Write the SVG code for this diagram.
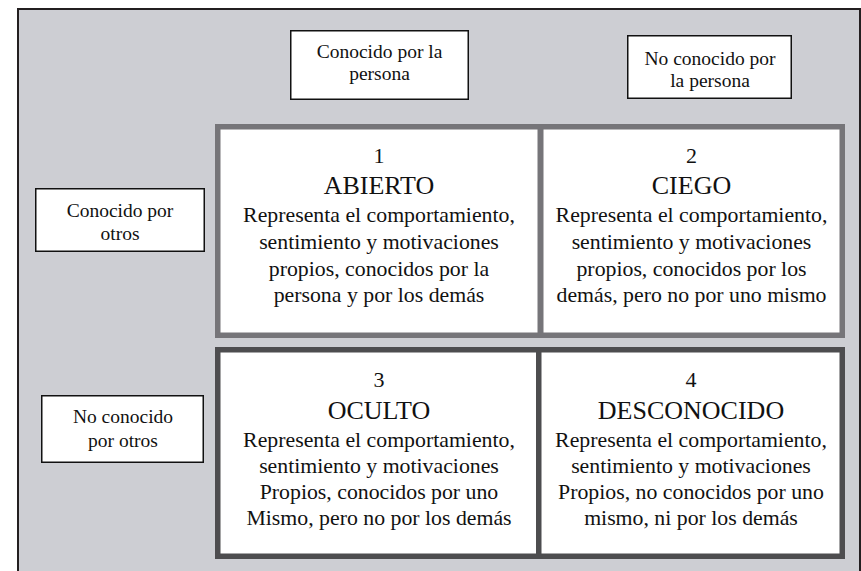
<svg xmlns="http://www.w3.org/2000/svg" width="861" height="571" viewBox="0 0 861 571">
<style>
  .lbl { fill: #ffffff; stroke: #111111; stroke-width: 1.5; }
  .cellA { fill: #ffffff; stroke: #767579; stroke-width: 5.5; }
  .cellB { fill: #ffffff; stroke: #4d4d4f; stroke-width: 5.5; }
  .t { font-size: 19.5px; }
  .num { font-size: 22px; }
  .ttl { font-size: 26px; }
  .body { font-size: 21.8px; }
</style>
<rect x="0" y="0" width="861" height="571" fill="#ffffff"/>
<rect id="frame" x="18" y="9" width="842" height="600" fill="#cdced3" stroke="#231f20" stroke-width="2"/>
<g id="connectors"></g>
<g font-family="Liberation Serif, DejaVu Serif, serif" fill="#111111" text-anchor="middle">
<g id="label-conocido-persona">
  <rect class="lbl" x="290.75" y="30.75" width="177.5" height="68.5"/>
  <text class="t" x="379.5" y="57.5">Conocido por la</text>
  <text class="t" x="379.5" y="80">persona</text>
</g>
<g id="label-no-conocido-persona">
  <rect class="lbl" x="627.75" y="35.75" width="163.5" height="62.5"/>
  <text class="t" x="710" y="65">No conocido por</text>
  <text class="t" x="710" y="86.5">la persona</text>
</g>
<g id="label-conocido-otros">
  <rect class="lbl" x="35.75" y="188.75" width="168.5" height="62.5"/>
  <text class="t" x="120" y="217">Conocido por</text>
  <text class="t" x="120" y="240">otros</text>
</g>
<g id="label-no-conocido-otros">
  <rect class="lbl" x="41.75" y="395.75" width="161.5" height="66.5"/>
  <text class="t" x="123" y="423">No conocido</text>
  <text class="t" x="123" y="447">por otros</text>
</g>
<g id="cell-1">
  <rect class="cellA" x="217.75" y="126.75" width="322.5" height="208.5"/>
  <text class="num" x="379" y="163">1</text>
  <text class="ttl" x="379" y="194">ABIERTO</text>
  <text class="body" x="379" y="222">Representa el comportamiento,</text>
  <text class="body" x="379" y="248.5">sentimiento y motivaciones</text>
  <text class="body" x="379" y="275.5">propios, conocidos por la</text>
  <text class="body" x="379" y="301.5">persona y por los demás</text>
</g>
<g id="cell-2">
  <rect class="cellA" x="540.75" y="126.75" width="301.5" height="208.5"/>
  <text class="num" x="691.5" y="163">2</text>
  <text class="ttl" x="691.5" y="194">CIEGO</text>
  <text class="body" x="691.5" y="222">Representa el comportamiento,</text>
  <text class="body" x="691.5" y="248.5">sentimiento y motivaciones</text>
  <text class="body" x="691.5" y="275.5">propios, conocidos por los</text>
  <text class="body" x="691.5" y="301.5">demás, pero no por uno mismo</text>
</g>
<g id="cell-3">
  <rect class="cellB" x="217.75" y="349.75" width="321.5" height="206.5"/>
  <text class="num" x="379" y="387">3</text>
  <text class="ttl" x="379" y="419">OCULTO</text>
  <text class="body" x="379" y="447">Representa el comportamiento,</text>
  <text class="body" x="379" y="473">sentimiento y motivaciones</text>
  <text class="body" x="379" y="499">Propios, conocidos por uno</text>
  <text class="body" x="379" y="525">Mismo, pero no por los demás</text>
</g>
<g id="cell-4">
  <rect class="cellB" x="538.75" y="349.75" width="303.5" height="206.5"/>
  <text class="num" x="691" y="387">4</text>
  <text class="ttl" x="691" y="419">DESCONOCIDO</text>
  <text class="body" x="691" y="447">Representa el comportamiento,</text>
  <text class="body" x="691" y="473">sentimiento y motivaciones</text>
  <text class="body" x="691" y="499">Propios, no conocidos por uno</text>
  <text class="body" x="691" y="525">mismo, ni por los demás</text>
</g>
</g>
</svg>
